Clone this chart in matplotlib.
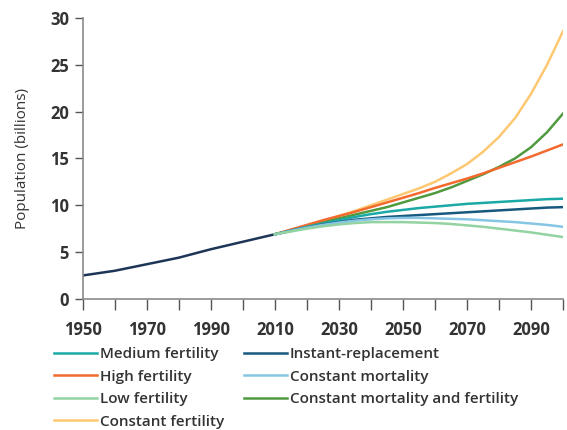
import matplotlib.pyplot as plt

plt.rcParams['font.family'] = ['Open Sans', 'DejaVu Sans']

years_hist = [1950, 1960, 1970, 1980, 1990, 2000, 2010]
pop_hist = [2.5, 3.0, 3.7, 4.4, 5.3, 6.1, 6.9]

years_proj = list(range(2010, 2101, 5))
medium = [6.9, 7.3, 7.7, 8.05, 8.4, 8.75, 9.05, 9.3, 9.5, 9.7, 9.85, 10.0, 10.15, 10.25, 10.35, 10.45, 10.55, 10.65, 10.7]
high = [6.9, 7.4, 7.9, 8.4, 8.85, 9.3, 9.8, 10.3, 10.8, 11.3, 11.85, 12.35, 12.85, 13.4, 14.0, 14.6, 15.2, 15.85, 16.5]
low = [6.9, 7.2, 7.5, 7.75, 7.95, 8.1, 8.2, 8.2, 8.2, 8.15, 8.1, 8.0, 7.85, 7.7, 7.5, 7.3, 7.1, 6.85, 6.6]
const_fert = [6.9, 7.35, 7.8, 8.3, 8.85, 9.4, 10.0, 10.6, 11.2, 11.8, 12.5, 13.4, 14.4, 15.7, 17.3, 19.3, 21.9, 25.0, 28.6]
instant = [6.9, 7.25, 7.6, 7.95, 8.2, 8.45, 8.6, 8.75, 8.85, 8.95, 9.05, 9.15, 9.25, 9.35, 9.45, 9.55, 9.65, 9.75, 9.8]
const_mort = [6.9, 7.25, 7.6, 7.9, 8.15, 8.35, 8.5, 8.6, 8.65, 8.65, 8.6, 8.55, 8.5, 8.4, 8.3, 8.2, 8.05, 7.9, 7.7]
const_mort_fert = [6.9, 7.3, 7.75, 8.2, 8.6, 9.0, 9.4, 9.8, 10.3, 10.8, 11.3, 11.9, 12.6, 13.3, 14.1, 15.0, 16.2, 17.8, 19.8]

series = [
    ('Medium fertility', medium, '#1aa9a6'),
    ('High fertility', high, '#f26a2e'),
    ('Low fertility', low, '#93d3a2'),
    ('Constant fertility', const_fert, '#fdc871'),
    ('Instant-replacement', instant, '#17587f'),
    ('Constant mortality', const_mort, '#86c6e4'),
    ('Constant mortality and fertility', const_mort_fert, '#4f9a3f'),
]
draw_order = [3, 6, 1, 0, 4, 5, 2]

fig = plt.figure(figsize=(5.67, 4.3), dpi=100)
ax = fig.add_axes([0.146, 0.305, 0.847, 0.653])

ax.plot(years_hist, pop_hist, color='#1d3557', lw=1.8)
handles = {}
for i in draw_order:
    name, vals, col = series[i]
    handles[i], = ax.plot(years_proj, vals, color=col, lw=1.8, label=name)

ax.set_xlim(1950, 2100)
ax.set_ylim(0, 30)
ax.set_xticks(range(1950, 2101, 10))
ax.set_xticklabels([str(y) if y % 20 == 10 and y <= 2090 else '' for y in range(1950, 2101, 10)])
ax.set_yticks(range(0, 31, 5))

for s in ['top', 'right']:
    ax.spines[s].set_visible(False)
for s in ['left', 'bottom']:
    ax.spines[s].set_color('#8a8a8a')
    ax.spines[s].set_linewidth(1.2)
ax.tick_params(axis='both', color='#555555', width=1.0, labelsize=12, labelcolor='#333333')
ax.tick_params(axis='x', length=8, pad=8)
ax.tick_params(axis='y', length=6, pad=4)
for lab in ax.get_xticklabels() + ax.get_yticklabels():
    lab.set_fontweight('bold')

ax.set_ylabel('Population (billions)', fontsize=11, color='#333333')
ax.yaxis.set_label_coords(-0.11, 0.5)

order = [0, 1, 2, 3, 4, 5, 6]
leg = fig.legend([handles[i] for i in order], [series[i][0] for i in order],
                 loc='upper left', bbox_to_anchor=(0.085, 0.207), ncol=2,
                 frameon=False, prop={'size': 11, 'weight': 'semibold'},
                 handlelength=2.8, handletextpad=0.2,
                 labelspacing=0.56, columnspacing=1.3, borderaxespad=0)
for t in leg.get_texts():
    t.set_color('#333333')

fig.savefig('out.png', dpi=100)
